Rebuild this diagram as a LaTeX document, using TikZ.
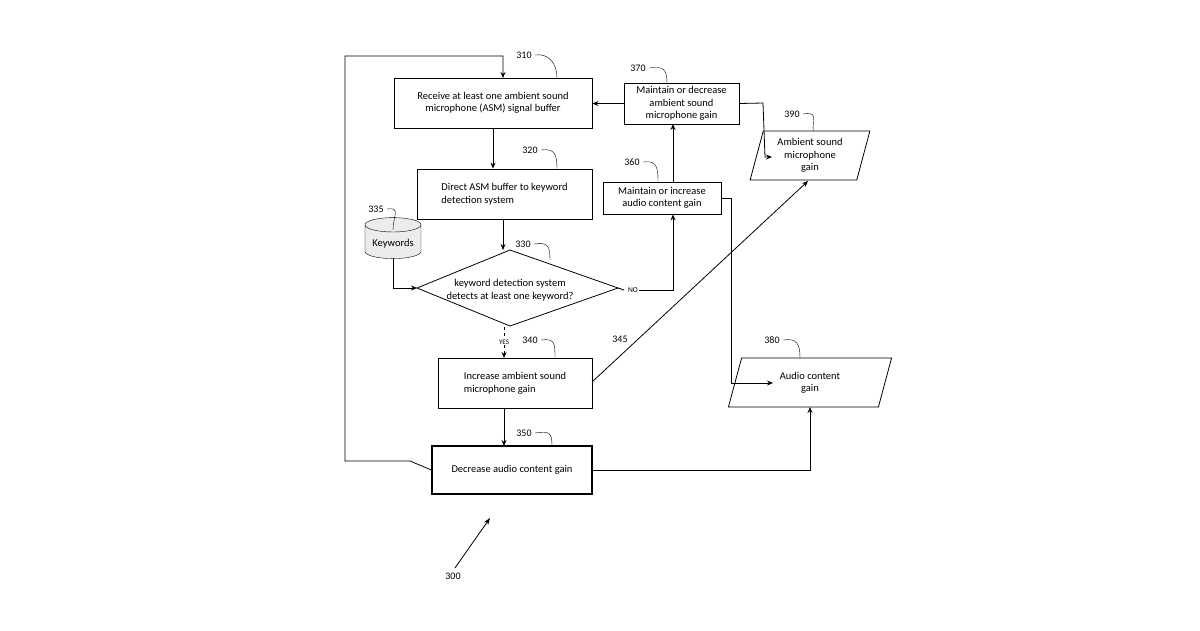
\documentclass[tikz,border=0pt]{standalone}
\usepackage{fontspec}
\setmainfont{Carlito}
\usetikzlibrary{shapes.geometric,arrows.meta}
\begin{document}
\begin{tikzpicture}[x=1pt,y=-1pt,
  box/.style={draw,thick,minimum height=#1,inner sep=2pt},
  lbl/.style={font=\fontsize{10}{11}\selectfont},
  txt/.style={font=\fontsize{10.5}{12.5}\selectfont,align=center},
  arr/.style={thick,-{Stealth[length=6pt,width=5pt]}},
  lead/.style={thin}]
\useasboundingbox (0,0) rectangle (1200,630);
\node[draw,thick,minimum width=198pt,minimum height=50pt,txt] (b310) at (493,103) {Receive at least one ambient sound\\microphone (ASM) signal buffer};
\node[draw,thick,minimum width=175pt,minimum height=50pt,txt,align=left] (b320) at (504.5,194) {Direct ASM buffer to keyword\\detection system};
\coordinate (dL) at (417,288); \coordinate (dR) at (618,288);
\coordinate (dT) at (510,250); \coordinate (dB) at (510,326);
\draw[thick] (dL)--(dT)--(dR)--(dB)--cycle;
\node[txt] (d330) at (510,290) {keyword detection system\\detects at least one keyword?};
\node[cylinder,shape border rotate=90,draw,fill=gray!15,minimum width=56pt,minimum height=41pt,aspect=0.3,txt] (kw) at (393,243.5) {Keywords};
\node[draw,thick,minimum width=154pt,minimum height=50pt,txt,align=left] (b340) at (515,383) {Increase ambient sound\\microphone gain};
\node[draw,very thick,minimum width=160pt,minimum height=48pt,txt] (b350) at (512,470) {Decrease audio content gain};
\node[draw,thick,minimum width=118pt,minimum height=32pt,txt] (b360) at (662,198) {Maintain or increase\\audio content gain};
\node[draw,thick,minimum width=115pt,minimum height=41pt,txt,inner sep=1pt] (b370) at (681.5,103.5) {Maintain or decrease\\ambient sound\\microphone gain};
\node[trapezium,trapezium left angle=75,trapezium right angle=105,draw,thick,minimum width=80pt,minimum height=49pt,inner sep=0pt,txt] (b390) at (810,155.5) {Ambient sound\\microphone\\gain};
\node[trapezium,trapezium left angle=75,trapezium right angle=105,draw,thick,minimum width=80pt,minimum height=49pt,inner sep=0pt,txt] (b380) at (810,382.5) {Audio content\\gain};
% connectors
\draw[arr] (b310.south) -- (b310.south |- b320.north);
\draw[arr] (503,219) -- (503,250);
\draw[arr] (kw.south) |- (dL);
\draw[thick,dashed,-{Stealth[length=6pt,width=5pt]}] (504,327) -- (504,358);
\node[font=\fontsize{7}{8}\selectfont,fill=white,inner sep=1pt] (yes) at (504,342) {YES};
\draw[thick] (dR) -- (624,290);
\node[font=\fontsize{7.5}{8}\selectfont,inner sep=1pt] (no) at (633,290) {NO};
\draw[arr] (no.east) -| (b360.south -| 673,0);
\draw[arr] (673,182) -- (673,124);
\draw[arr] (b370.west) -- (b310.east |- b370.west);
\draw[arr] (b340.south -| 504,0) -- (504,446);
\draw[arr] (b350.west) -- (410,461) -- (345,461) -- (345,56) -- (503,56) -- (503,78);
\draw[arr] (b370.east) -- (763,103) -- (765,157) -- (772,157);
\draw[arr] (b360.east) -- (731,198) -- (731,383) -- (773,383);
\draw[arr] (592,382) -- (808,181);
\draw[arr] (b350.east) -- (810,470) -- (810,407);
\draw[thick,-{Stealth[length=7pt,width=5pt]}] (455,568) -- (490,518);
% labels and leaders
\node[lbl] (n300) at (453,576) {300};
\node[lbl] (n345) at (620,339) {345};
\foreach \n/\x/\y/\ex/\ey in {310/524/55/557/78, 320/530/150/557/169, 330/523/244/550/260, 335/376/209/393/230, 340/530/340/555/358, 350/524/433/552/446, 360/632/162/658/182, 370/638/68/667/83, 380/772/340/800/358, 390/792/114/813/131}{
  \node[lbl] (n\n) at (\x,\y) {\n};
  \draw[lead] (n\n.east) .. controls +(14,-2) and (\ex,\ey-14) .. (\ex,\ey);
}
\end{tikzpicture}
\end{document}
